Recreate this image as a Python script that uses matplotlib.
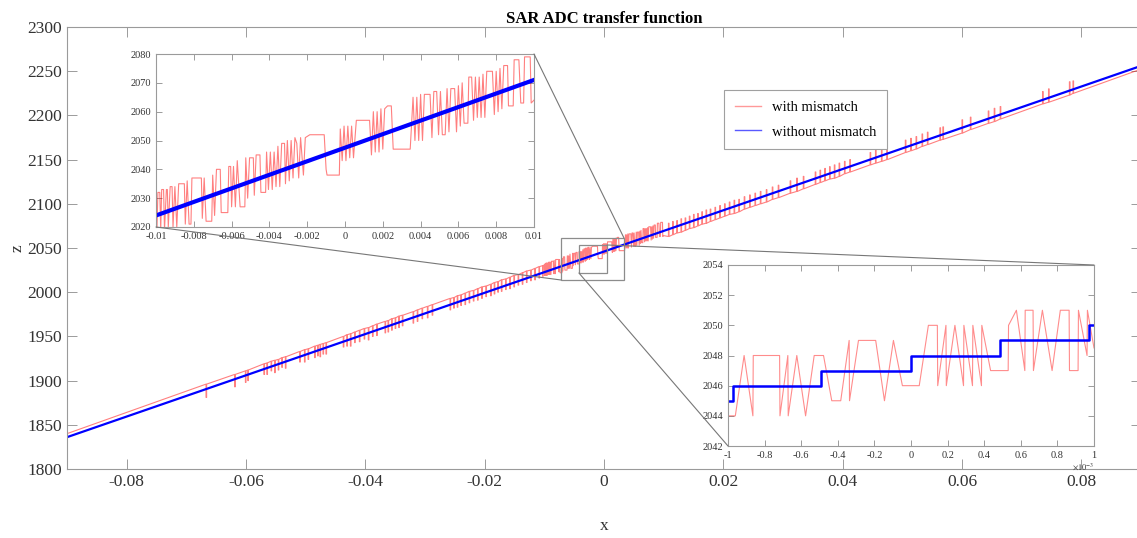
import matplotlib.pyplot as plt
from matplotlib.lines import Line2D
from matplotlib.patches import Rectangle, ConnectionPatch
import numpy as np

plt.rcParams['font.family'] = ['Liberation Serif', 'DejaVu Serif']
plt.rcParams['mathtext.fontset'] = 'stix'
plt.rcParams['axes.unicode_minus'] = False

# ideal converter (without mismatch), full range
ideal_x = [-0.09, 0.09]
ideal_z = [1836, 2256]

# converter with mismatch, full range: ends of the trace
mis_start = (-0.09, 1840)
mis_end = [(0.0894, 2251), (0.09, 2252)]

# glitches left of centre: position, level before, level at the tip
lspike_x = [-0.0667, -0.0619, -0.0601, -0.0597, -0.0570, -0.0565, -0.0558, -0.0552,
            -0.0546, -0.0540, -0.0534, -0.0510, -0.0502, -0.0496, -0.0485, -0.0480,
            -0.0476, -0.0471, -0.0466, -0.0437, -0.0431, -0.0425, -0.0418, -0.0410,
            -0.0402, -0.0395, -0.0388, -0.0381, -0.0367, -0.0362, -0.0356, -0.0350,
            -0.0344, -0.0338, -0.0320, -0.0313, -0.0305, -0.0296, -0.0288, -0.0258,
            -0.0252, -0.0246, -0.0240, -0.0233, -0.0226, -0.0219, -0.0212, -0.0205,
            -0.0198, -0.0190, -0.0184, -0.0178, -0.0172, -0.0165, -0.0158, -0.0151,
            -0.0144, -0.0137, -0.0130, -0.0123, -0.0116, -0.0109, -0.0103]
lspike_base = [1896, 1907, 1911, 1912, 1919, 1920, 1922, 1923, 1924, 1926, 1927, 1933,
               1935, 1936, 1939, 1940, 1941, 1942, 1943, 1950, 1952, 1953, 1955, 1957,
               1959, 1960, 1962, 1964, 1967, 1968, 1970, 1971, 1973, 1974, 1978, 1980,
               1982, 1984, 1986, 1993, 1994, 1996, 1997, 1999, 2001, 2002, 2004, 2006,
               2007, 2009, 2011, 2012, 2014, 2015, 2017, 2019, 2020, 2022, 2024, 2025,
               2027, 2029, 2030]
lspike_tip = [1881, 1893, 1898, 1900, 1907, 1907, 1911, 1909, 1912, 1915, 1914, 1921,
              1921, 1924, 1926, 1928, 1927, 1930, 1930, 1938, 1939, 1939, 1943, 1944,
              1947, 1946, 1950, 1951, 1954, 1955, 1957, 1959, 1960, 1962, 1965, 1967,
              1970, 1971, 1974, 1980, 1982, 1983, 1985, 1986, 1988, 1990, 1991, 1993,
              1995, 1996, 1998, 2000, 2001, 2003, 2004, 2006, 2008, 2009, 2011, 2013,
              2014, 2016, 2018]

# glitches right of centre
rspike_x = [0.0108, 0.0115, 0.0122, 0.0129, 0.0136, 0.0143, 0.0150, 0.0157, 0.0164,
            0.0171, 0.0178, 0.0186, 0.0194, 0.0202, 0.0210, 0.0218, 0.0226, 0.0235,
            0.0244, 0.0253, 0.0262, 0.0272, 0.0282, 0.0292, 0.0312, 0.0323, 0.0334,
            0.0354, 0.0362, 0.0370, 0.0378, 0.0386, 0.0394, 0.0403, 0.0412, 0.0446,
            0.0455, 0.0465, 0.0474, 0.0505, 0.0514, 0.0523, 0.0533, 0.0542, 0.0563,
            0.0568, 0.0600, 0.0614, 0.0644, 0.0654, 0.0664, 0.0735, 0.0745, 0.0780,
            0.0786]
rspike_base = [2063, 2065, 2067, 2068, 2070, 2072, 2073, 2075, 2077, 2078, 2080, 2082,
               2084, 2086, 2088, 2089, 2091, 2094, 2096, 2098, 2100, 2102, 2105, 2107,
               2112, 2114, 2117, 2122, 2124, 2126, 2128, 2129, 2131, 2134, 2136, 2144,
               2146, 2148, 2150, 2158, 2160, 2162, 2165, 2167, 2172, 2173, 2180, 2184,
               2191, 2193, 2196, 2213, 2215, 2223, 2225]
rspike_tip = [2078, 2080, 2081, 2083, 2084, 2086, 2088, 2089, 2091, 2093, 2094, 2096,
              2098, 2100, 2102, 2104, 2105, 2108, 2110, 2112, 2114, 2116, 2119, 2121,
              2126, 2129, 2131, 2136, 2138, 2140, 2142, 2144, 2146, 2148, 2150, 2158,
              2161, 2163, 2165, 2172, 2174, 2176, 2179, 2181, 2186, 2187, 2195, 2198,
              2205, 2208, 2210, 2227, 2230, 2238, 2239]

# zoom 1: x in units of 1e-3
z1_ideal_x = [-10, 10]
z1_ideal_z = [2024, 2071]
z1_mis_x = [-10.0, -9.95, -9.9, -9.8, -9.75, -9.7, -9.6, -9.55, -9.45, -9.4, -9.35, -9.25,
            -9.15, -9.1, -9.0, -8.9, -8.8, -8.5, -8.45, -8.35, -8.25, -8.15, -8.1, -7.6,
            -7.55, -7.45, -7.35, -7.05, -7.0, -6.9, -6.8, -6.6, -6.55, -6.2, -6.15, -6.05,
            -6.0, -5.9, -5.8, -5.7, -5.55, -5.3, -5.25, -5.15, -5.05, -4.85, -4.8, -4.7,
            -4.5, -4.45, -4.2, -4.15, -4.05, -3.95, -3.85, -3.75, -3.65, -3.55, -3.45,
            -3.35, -3.2, -3.15, -3.05, -2.95, -2.85, -2.75, -2.65, -2.55, -2.45, -2.35,
            -2.2, -2.1, -1.86, -1.1, -1.0, -0.95, -0.3, -0.25, -0.15, -0.05, 0.05, 0.15,
            0.25, 0.35, 0.45, 0.6, 1.3, 1.4, 1.5, 1.6, 1.7, 1.8, 1.9, 2.0, 2.1, 2.25, 2.45,
            2.55, 3.45, 3.6, 3.7, 3.8, 3.9, 4.0, 4.1, 4.2, 4.5, 4.6, 4.7, 4.85, 4.95, 5.05,
            5.15, 5.3, 5.4, 5.5, 5.6, 5.8, 5.9, 6.0, 6.1, 6.2, 6.3, 6.5, 6.55, 6.7, 6.8,
            6.9, 7.0, 7.1, 7.2, 7.3, 7.4, 7.5, 7.8, 7.9, 8.0, 8.1, 8.2, 8.3, 8.4, 8.6,
            8.65, 8.9, 8.95, 9.2, 9.3, 9.45, 9.5, 9.8, 9.85, 10.0]
z1_mis_z = [2031, 2019, 2032, 2032, 2019, 2033, 2033, 2019, 2033, 2033, 2020, 2034,
            2034, 2020, 2034, 2020, 2035, 2035, 2021, 2036, 2021, 2021, 2037, 2037,
            2023, 2037, 2022, 2022, 2038, 2024, 2040, 2040, 2025, 2025, 2041, 2041,
            2027, 2041, 2027, 2043, 2027, 2027, 2044, 2030, 2044, 2044, 2031, 2045,
            2045, 2032, 2032, 2046, 2033, 2046, 2033, 2046, 2034, 2048, 2034,
            2049, 2049, 2035, 2050, 2036, 2050, 2037, 2051, 2049, 2037, 2051,
            2038, 2051, 2052, 2052, 2040, 2038, 2038, 2054, 2043, 2055, 2043, 2055,
            2044, 2055, 2044, 2057, 2057, 2045, 2060, 2046, 2060, 2046, 2061, 2047, 2061, 2062, 2062,
            2047, 2047, 2065, 2050, 2065, 2050, 2066, 2050, 2066, 2066, 2051, 2067, 2067, 2052, 2067,
            2052, 2052, 2068, 2053, 2068, 2068, 2053, 2069, 2055, 2070, 2056, 2056, 2072, 2072, 2057,
            2072, 2058, 2072, 2058, 2073, 2058, 2074, 2074, 2059, 2074, 2060, 2075, 2061, 2076, 2076,
            2062, 2062, 2078, 2078, 2063, 2063, 2079, 2079, 2063, 2064]

# zoom 2: x in units of 1e-3
z2_ideal_x = [-1.0, -0.975, -0.49, 0.0, 0.487, 0.973, 1.0]
z2_ideal_z = [2045, 2046, 2047, 2048, 2049, 2050, 2050]
z2_mis_x = [-1.0, -0.96, -0.912, -0.864, -0.862, -0.718, -0.716, -0.673, -0.671, -0.624,
            -0.576, -0.529, -0.478, -0.433, -0.384, -0.338, -0.336, -0.287, -0.193, -0.145,
            -0.096, -0.047, 0.045, 0.095, 0.144, 0.146, 0.191, 0.193, 0.240, 0.287, 0.289,
            0.336, 0.338, 0.385, 0.387, 0.435, 0.531, 0.533, 0.576, 0.622, 0.624, 0.667,
            0.669, 0.718, 0.771, 0.816, 0.864, 0.866, 0.913, 0.915, 0.962, 0.964, 1.0]
z2_mis_z = [2044, 2044, 2048, 2044, 2048, 2048, 2044, 2048, 2044, 2048,
            2044, 2048, 2048, 2045, 2045, 2049, 2045, 2049, 2049, 2045,
            2049, 2046, 2046, 2050, 2050, 2046, 2050, 2046, 2050, 2046, 2050,
            2046, 2050, 2046, 2050, 2047, 2047, 2050, 2051, 2047, 2051, 2051,
            2047, 2051, 2047, 2051, 2051, 2047, 2047, 2051, 2048, 2051, 2048.5]

main_xticks = [-0.08, -0.06, -0.04, -0.02, 0, 0.02, 0.04, 0.06, 0.08]
main_xlabels = ['-0.08', '-0.06', '-0.04', '-0.02', '0', '0.02', '0.04', '0.06', '0.08']
z1_xticks = [-10, -8, -6, -4, -2, 0, 2, 4, 6, 8, 10]
z1_xlabels = ['-0.01', '-0.008', '-0.006', '-0.004', '-0.002', '0', '0.002', '0.004',
              '0.006', '0.008', '0.01']
z2_xticks = [-1, -0.8, -0.6, -0.4, -0.2, 0, 0.2, 0.4, 0.6, 0.8, 1]
z2_xlabels = ['-1', '-0.8', '-0.6', '-0.4', '-0.2', '0', '0.2', '0.4', '0.6', '0.8', '1']

RED = (1, 0, 0)
BLUE = (0, 0, 1)
GREY = '#8c8c8c'


def style(ax, size, length):
    ax.tick_params(direction='in', top=True, right=True, labelsize=size,
                   length=length, width=0.6, color=GREY, labelcolor='#333333')
    for s in ax.spines.values():
        s.set_color('#9a9a9a')
        s.set_linewidth(0.8)


# build the mismatch trace of the main view (each glitch is a narrow pulse)
w = 0.0001
mis_x = [mis_start[0]]
mis_z = [mis_start[1]]
for x, b, t in zip(lspike_x, lspike_base, lspike_tip):
    mis_x += [x, x, x + w, x + w]
    mis_z += [b, t, t, b]
mis_x += list(np.array(z1_mis_x) * 1e-3)
mis_z += z1_mis_z
for x, b, t in zip(rspike_x, rspike_base, rspike_tip):
    mis_x += [x, x, x + w, x + w]
    mis_z += [b, t, t, b]
for x, z in mis_end:
    mis_x.append(x)
    mis_z.append(z)

fig = plt.figure(figsize=(11.37, 5.38), dpi=100)
ax = fig.add_axes([67 / 1137, 69 / 538, 1074 / 1137, 442 / 538])
ax.plot(mis_x, mis_z, color=RED, alpha=0.5, lw=0.8)
ax.plot(ideal_x, ideal_z, color=BLUE, lw=1.6)
ax.set_xlim(-0.09, 0.09)
ax.set_ylim(1800, 2300)
ax.set_xticks(main_xticks)
ax.set_xticklabels(main_xlabels)
ax.set_yticks(np.arange(1800, 2301, 50))
style(ax, 12.5, 7)
ax.set_xlabel('x', fontsize=12.5, color='#333333', labelpad=20)
ax.set_ylabel('z', fontsize=12.5, color='#333333', labelpad=1)
ax.set_title('SAR ADC transfer function', fontweight='bold', fontsize=12, pad=3)

# zoom boxes on the main view
outer = (-0.0072, 2013.8, 0.01055, 47.5)
inner = (-0.0042, 2021.7, 0.0047, 31.7)
for x0, y0, bw, bh in (outer, inner):
    ax.add_patch(Rectangle((x0, y0), bw, bh, fill=False, ec=GREY, lw=0.9, zorder=5))

# inset 1
ax1 = fig.add_axes([156 / 1137, 311 / 538, 378 / 1137, 173 / 538])
ax1.plot(np.array(z1_mis_x) * 1e-3, z1_mis_z, color=RED, alpha=0.5, lw=0.8)
ax1.plot(np.array(z1_ideal_x) * 1e-3, z1_ideal_z, color=BLUE, lw=3.0)
ax1.set_xlim(-0.01, 0.01)
ax1.set_ylim(2020, 2080)
ax1.set_xticks(np.array(z1_xticks) * 1e-3)
ax1.set_xticklabels(z1_xlabels)
ax1.set_yticks(np.arange(2020, 2081, 10))
style(ax1, 7.5, 4)

# inset 2
ax2 = fig.add_axes([728 / 1137, 92 / 538, 366 / 1137, 181 / 538])
ax2.plot(np.array(z2_mis_x) * 1e-3, z2_mis_z, color=RED, alpha=0.45, lw=0.8)
ax2.step(np.array(z2_ideal_x) * 1e-3, z2_ideal_z, where='post', color=BLUE, lw=1.8)
ax2.set_xlim(-0.001, 0.001)
ax2.set_ylim(2042, 2054)
ax2.set_xticks(np.array(z2_xticks) * 1e-3)
ax2.set_xticklabels(z2_xlabels)
ax2.set_yticks(np.arange(2042, 2055, 2))
style(ax2, 7.5, 4)
ax2.text(1.0, -0.085, r'$\times10^{-3}$', transform=ax2.transAxes, ha='right',
         va='top', fontsize=6, color='#333333')

# lines linking boxes to insets
links = [((outer[0] + outer[2], outer[1] + outer[3]), ax1, (1, 1)),
         ((outer[0], outer[1]), ax1, (0, 0)),
         ((inner[0] + inner[2], inner[1] + inner[3]), ax2, (1, 1)),
         ((inner[0], inner[1]), ax2, (0, 0))]
for xy, inset, corner in links:
    cp = ConnectionPatch(xyA=xy, coordsA=ax.transData, xyB=corner,
                         coordsB=inset.transAxes, color='#777777', lw=0.8)
    fig.add_artist(cp)

handles = [Line2D([], [], color=RED, alpha=0.4, lw=1.0),
           Line2D([], [], color=BLUE, alpha=0.65, lw=1.0)]
leg = fig.legend(handles, ['with mismatch', 'without mismatch'], loc='upper left',
                 bbox_to_anchor=(717 / 1137, 1 - 83 / 538), fontsize=10.5,
                 handlelength=1.8, borderpad=0.7, labelspacing=0.8,
                 fancybox=False, edgecolor='#a0a0a0', framealpha=1)
leg.get_frame().set_linewidth(0.8)

fig.savefig('out.png', dpi=100)
